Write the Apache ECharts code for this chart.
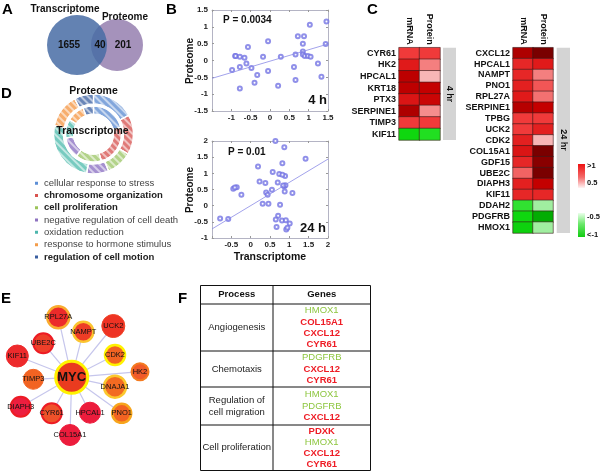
<!DOCTYPE html>
<html><head><meta charset="utf-8">
<script src="https://cdn.jsdelivr.net/npm/echarts/dist/echarts.min.js"></script>
<style>html,body{margin:0;padding:0;background:#fff}#c{width:600px;height:473px}</style>
</head><body><div id="c"></div>
<script>
const FONT = '"Liberation Sans", Arial, Helvetica, sans-serif';
// ---------- Panel A ----------
const vennLabels = ['Transcriptome', 'Proteome'];
const vennCounts = [1655, 40, 201];
// ---------- Panel B ----------
const scatter4h = [[1.46,1.16],[1.03,1.06],[-0.05,0.57],[0.72,0.72],[0.88,0.72],[-0.57,0.40],[0.85,0.50],[1.44,0.49],
[-0.90,0.13],[-0.89,0.13],[-0.78,0.11],[-0.66,0.08],[-0.18,0.11],[0.28,0.11],[0.66,0.18],[0.85,0.27],[0.85,0.18],
[0.90,0.13],[0.98,0.13],[1.05,0.11],[1.24,-0.09],[0.62,-0.19],[-0.98,-0.28],[-0.78,-0.19],[-0.61,-0.09],[-0.48,-0.22],
[-0.05,-0.31],[-0.33,-0.43],[-0.40,-0.66],[-0.78,-0.83],[0.21,-0.75],[0.66,-0.58],[1.33,-0.48]];
const fit4h = [[-1.5,-0.53],[1.5,0.49]];
const scatter24h = [[0.64,2.0],[0.87,1.81],[1.42,1.45],[0.19,1.21],[0.82,1.31],[0.57,1.04],[0.74,0.98],[0.89,0.92],[0.82,0.96],
[0.23,0.75],[0.38,0.70],[0.70,0.72],[0.87,0.60],[0.90,0.63],[0.84,0.62],[0.88,0.44],[-0.45,0.52],[-0.36,0.57],[-0.41,0.56],
[-0.24,0.34],[0.40,0.41],[0.55,0.49],[1.08,0.39],[0.44,0.34],[0.31,0.06],[0.46,0.06],[0.76,0.03],[0.71,-0.31],[0.65,-0.43],
[0.81,-0.46],[0.91,-0.45],[1.01,-0.55],[0.67,-0.66],[0.92,-0.74],[0.95,-0.68],[-0.79,-0.40],[-0.58,-0.41]];
const fit24h = [[-1,-0.72],[2,1.44]];
const pLabels = ['P = 0.0034', 'P = 0.01'];
const timeLabels = ['4 h', '24 h'];
const axisTitles = ['Proteome', 'Transcriptome'];
// ---------- Panel C ----------
const heatCols = ['mRNA', 'Protein'];
const genes4h = ['CYR61','HK2','HPCAL1','KRT18','PTX3','SERPINE1','TIMP3','KIF11'];
const mrna4h = [1.0, 1.5, 2.1, 2.1, 1.6, 2.3, 1.0, -1.05];
const prot4h = [1.0, 0.75, 0.55, 2.0, 1.9, 0.7, 1.0, -0.95];
const genes24h = ['CXCL12','HPCAL1','NAMPT','PNO1','RPL27A','SERPINE1','TPBG','UCK2','CDK2','COL15A1','GDF15','UBE2C','DIAPH3','KIF11','DDAH2','PDGFRB','HMOX1'];
const mrna24h = [2.3, 1.3, 1.3, 1.4, 1.5, 2.2, 1.0, 1.0, 1.4, 1.6, 1.3, 0.85, 1.4, 1.3, -0.9, -1.05, -1.1];
const prot24h = [3.0, 1.5, 0.75, 0.9, 0.8, 2.0, 1.0, 1.4, 0.55, 3.0, 2.8, 3.0, 2.0, 1.3, -0.55, -1.4, -0.55];
const timeBars = ['4 hr', '24 hr'];
const scaleLabels = ['>1', '0.5', '-0.5', '<-1'];
// ---------- Panel D ----------
const goTerms = ['cellular response to stress','chromosome organization','cell proliferation','negative regulation of cell death','oxidation reduction','response to hormone stimulus','regulation of cell motion'];
const goBold = ['chromosome organization','cell proliferation','regulation of cell motion'];
const outerRing = [62, 58, 38, 32, 92, 50, 28];
const innerRing = [77, 87, 54, 44, 39, 37, 22];
const ringLabels = ['Proteome', 'Transcriptome'];
// ---------- Panel E ----------
const netNames = ['MYC','RPL27A','NAMPT','UCK2','UBE2C','KIF11','CDK2','HK2','TIMP3','DNAJA1','DIAPH3','CYR61','HPCAL1','PNO1','COL15A1'];
const netX = [71.7, 58.3, 83.3, 113.3, 43.3, 17.3, 115, 140, 33.3, 115, 20.7, 51.7, 90, 121.7, 70];
const netY = [377.3, 317.3, 331.7, 326, 343.3, 356, 355, 371.7, 379.3, 386.7, 406.7, 413.3, 412.7, 413.3, 435];
// ---------- Panel F ----------
const tableHeader = ['Process', 'Genes'];
const processes = ['Angiogenesis', 'Chemotaxis', 'Regulation of\ncell migration', 'Cell proliferation'];
const processGenes = [['HMOX1','COL15A1','CXCL12','CYR61'],['PDGFRB','CXCL12','CYR61'],['HMOX1','PDGFRB','CXCL12'],['PDXK','HMOX1','CXCL12','CYR61']];
const downGenes = ['HMOX1','PDGFRB'];

// ================= styling / layout =================
const panelLetters = [['A',2,2],['B',166,2],['C',367,2],['D',1,86],['E',1,291],['F',178,291]];
const ringColors = ['#82a6dc','#e07a78','#b3d38a','#a590d0','#77cbc0','#f7ae6e','#6a86b8'];
const legendColors = ['#5d8fd6','#d9534f','#9cc45a','#8e73c0','#4db6ac','#f39c4a','#3a5fa0'];
const netFill = ['#ea3b1f','#ec2b2a','#ee3d26','#ee3324','#ee3f2a','#ed2a2c','#f26322','#f15a29','#f26322','#f26a22','#ec1e3f','#f0512a','#ec1c3c','#f26322','#ec1c3c'];
const netBorder = ['#fff200','#f9ac2f','#fbc530','#ef4426','#ed1c24','#ed2a2c','#fff200','#f47b20','#f26322','#fbc72d','#ed1c24','#ed1c24','#ec1c3c','#f7a51c','#ec1c3c'];
const netBorderW = [3,2.5,2.5,1,2,1,2.5,2,1,2.5,2,2,1,2.5,1];
const netSize = [32,22,20,23,20,22,20,17,20,22,20,20,21,19,21];

function T(text, x, y, o) {
  o = o || {};
  return { type:'text', x:x, y:y, rotation:o.rot||0, z:o.z||100, silent:true,
    style:{ text:text, x:0, y:0, fill:o.color||'#111',
      font:(o.bold?'bold ':'')+(o.size||10)+'px '+FONT,
      textAlign:o.align||'center', textVerticalAlign:o.valign||'middle',
      align:o.align||'center', verticalAlign:o.valign||'middle', lineHeight:o.lh } };
}
const G = [];
panelLetters.forEach(p => G.push(T(p[0], p[1], p[2], {bold:true, size:15, align:'left', valign:'top', color:'#000'})));
// Venn
G.push({type:'circle', shape:{cx:117, cy:45, r:26}, style:{fill:'#a592bb'}, z:10, silent:true});
G.push({type:'circle', shape:{cx:77, cy:45, r:30}, style:{fill:'rgba(72,108,165,0.85)'}, z:11, silent:true});
G.push(T(vennLabels[0], 65, 9, {bold:true, size:10}));
G.push(T(vennLabels[1], 125, 17, {bold:true, size:10}));
G.push(T(String(vennCounts[0]), 69, 45, {bold:true, size:10}));
G.push(T(String(vennCounts[1]), 100, 45, {bold:true, size:10}));
G.push(T(String(vennCounts[2]), 123, 45, {bold:true, size:10}));
// Scatter annotations
G.push(T(pLabels[0], 223, 20, {bold:true, size:10, align:'left'}));
G.push(T(timeLabels[0], 327, 100, {bold:true, size:13, align:'right'}));
G.push(T(pLabels[1], 228, 152, {bold:true, size:10, align:'left'}));
G.push(T(timeLabels[1], 326, 228, {bold:true, size:13, align:'right'}));
G.push(T(axisTitles[0], 190, 61, {bold:true, size:10, rot:Math.PI/2}));
G.push(T(axisTitles[0], 190, 190, {bold:true, size:10, rot:Math.PI/2}));
G.push(T(axisTitles[1], 270, 257, {bold:true, size:10.5}));
// Heatmap side bars + scale
G.push({type:'rect', shape:{x:443, y:47.7, width:13, height:92.3}, style:{fill:'#d4d4d4'}, z:5, silent:true});
G.push({type:'rect', shape:{x:556.7, y:47.7, width:13.3, height:185.3}, style:{fill:'#d4d4d4'}, z:5, silent:true});
G.push(T(timeBars[0], 449.5, 94, {bold:true, size:9, rot:-Math.PI/2}));
G.push(T(timeBars[1], 563.3, 140, {bold:true, size:9, rot:-Math.PI/2}));
G.push({type:'rect', shape:{x:578, y:164, width:7, height:24}, silent:true,
  style:{fill:new echarts.graphic.LinearGradient(0,0,0,1,[{offset:0,color:'#ee1111'},{offset:0.55,color:'#f46a6a'},{offset:1,color:'#fff4f4'}])}});
G.push({type:'rect', shape:{x:578, y:213, width:7, height:24}, silent:true,
  style:{fill:new echarts.graphic.LinearGradient(0,0,0,1,[{offset:0,color:'#eaffea'},{offset:0.45,color:'#6ce86c'},{offset:1,color:'#11cc11'}])}});
G.push(T(scaleLabels[0], 587, 166, {bold:true, size:7.5, align:'left'}));
G.push(T(scaleLabels[1], 587, 183, {bold:true, size:7.5, align:'left'}));
G.push(T(scaleLabels[2], 587, 217, {bold:true, size:7.5, align:'left'}));
G.push(T(scaleLabels[3], 587, 235, {bold:true, size:7.5, align:'left'}));
// Donut labels
G.push(T(ringLabels[0], 93.5, 91, {bold:true, size:10.5, z:200}));
G.push(T(ringLabels[1], 92.5, 131, {bold:true, size:10.5, z:200}));
// Table
const tx = [200.5, 273, 370.5];
const ty = [285.5, 304, 351, 387, 425, 470.5];
G.push({type:'rect', shape:{x:tx[0], y:ty[0], width:tx[2]-tx[0], height:ty[5]-ty[0]}, style:{fill:null, stroke:'#111', lineWidth:1}, silent:true});
G.push({type:'line', shape:{x1:tx[1], y1:ty[0], x2:tx[1], y2:ty[5]}, style:{stroke:'#111', lineWidth:1}, silent:true});
for (let i = 1; i < ty.length - 1; i++) G.push({type:'line', shape:{x1:tx[0], y1:ty[i], x2:tx[2], y2:ty[i]}, style:{stroke:'#111', lineWidth:1}, silent:true});
G.push(T(tableHeader[0], (tx[0]+tx[1])/2, (ty[0]+ty[1])/2, {bold:true, size:9.5}));
G.push(T(tableHeader[1], (tx[1]+tx[2])/2, (ty[0]+ty[1])/2, {bold:true, size:9.5}));
processes.forEach((p, i) => {
  const cy = (ty[i+1] + ty[i+2]) / 2;
  G.push(T(p, (tx[0]+tx[1])/2, cy, {size:9.5, color:'#222', lh:12}));
  const gl = processGenes[i];
  gl.forEach((g, j) => {
    const down = downGenes.indexOf(g) >= 0;
    G.push(T(g, (tx[1]+tx[2])/2, cy + (j - (gl.length-1)/2) * 11.2, {size:9.5, bold:!down, color: down ? '#8dc63f' : '#ee1c25'}));
  });
});

// ============ series ============
const boxLine = {show:true, onZero:false, lineStyle:{color:'#b4b4c4', width:1}};
const tickIn = {show:true, inside:true, length:2, lineStyle:{color:'#999'}};
const lbl = {fontSize:8, fontWeight:'bold', color:'#222', fontFamily:FONT};
function valAx(grid, pos, min, max, hideV, showLabel) {
  return {type:'value', gridIndex:grid, position:pos, min:min, max:max, interval:0.5, splitLine:{show:false},
    axisLine:boxLine, axisTick:tickIn,
    axisLabel: showLabel ? Object.assign({margin:pos==='left'?4:3, formatter: v => (hideV!==null && Math.abs(v-hideV)<1e-9) ? '' : String(v)}, lbl) : {show:false}};
}
const catLbl = {fontSize:9, fontWeight:'bold', color:'#111', fontFamily:FONT, interval:0};
function heatData(m, p) { const d = []; m.forEach((v,i)=>{ d.push([0,i,v]); d.push([1,i,p[i]]); }); return d; }

const decal = {symbol:'rect', symbolSize:1, dashArrayX:[1,0], dashArrayY:[1.4,2.2], rotation:Math.PI/4, color:'rgba(255,255,255,0.55)'};
function ringData(vals) { return vals.map((v,i)=>({name:goTerms[i], value:v, itemStyle:{color:ringColors[i], decal:decal}})); }

const nodeData = netNames.map((n,i)=>({name:n, x:netX[i], y:netY[i], symbolSize:netSize[i],
  itemStyle:{color:netFill[i], borderColor:netBorder[i], borderWidth:netBorderW[i]},
  label: i===0 ? {fontSize:13, fontWeight:'bold', color:'#111'} : {fontSize:7.5, color:'#111'}}));
const links = netNames.slice(1).map(n=>({source:'MYC', target:n}));
const nxMin = Math.min(...netX), nxMax = Math.max(...netX), nyMin = Math.min(...netY), nyMax = Math.max(...netY);

const option = {
  animation:false,
  textStyle:{fontFamily:FONT},
  grid:[
    {left:212, top:10, width:116, height:101},
    {left:212, top:141, width:116, height:97},
    {left:399, top:47.7, width:41, height:92.3},
    {left:513, top:47.7, width:40, height:185.3}
  ],
  xAxis:[
    valAx(0,'bottom',-1.5,1.5,-1.5,true),
    valAx(0,'top',-1.5,1.5,null,false),
    valAx(1,'bottom',-1,2,-1,true),
    valAx(1,'top',-1,2,null,false),
    {type:'category', gridIndex:2, position:'top', data:heatCols, axisLine:{show:false}, axisTick:{show:false}, axisLabel:Object.assign({rotate:90, margin:3}, catLbl)},
    {type:'category', gridIndex:3, position:'top', data:heatCols, axisLine:{show:false}, axisTick:{show:false}, axisLabel:Object.assign({rotate:90, margin:3}, catLbl)}
  ],
  yAxis:[
    valAx(0,'left',-1.5,1.5,null,true),
    valAx(0,'right',-1.5,1.5,null,false),
    valAx(1,'left',-1,2,null,true),
    valAx(1,'right',-1,2,null,false),
    {type:'category', gridIndex:2, data:genes4h, inverse:true, axisLine:{show:false}, axisTick:{show:false}, axisLabel:Object.assign({margin:3}, catLbl)},
    {type:'category', gridIndex:3, data:genes24h, inverse:true, axisLine:{show:false}, axisTick:{show:false}, axisLabel:Object.assign({margin:3}, catLbl)}
  ],
  visualMap:{type:'continuous', show:false, min:-1.5, max:3, seriesIndex:[4,5],
    inRange:{color:['#00a000','#11dd11','#b0f0b0','#ffffff','#f8c4c4','#f03a3a','#e01a1a','#c40000','#a00000','#7a0000']}},
  legend:{data:goTerms.map((n,i)=>({name:n, itemStyle:{color:legendColors[i], decal:'none'}})),
    orient:'vertical', left:33, top:178, padding:0, itemWidth:5, itemHeight:5, itemGap:2, icon:'rect', selectedMode:false,
    formatter: n => goBold.indexOf(n)>=0 ? '{b|'+n+'}' : n,
    textStyle:{fontSize:9.5, color:'#444', fontFamily:FONT, lineHeight:10.3, padding:0,
      rich:{b:{fontSize:9.5, fontWeight:'bold', color:'#222', fontFamily:FONT, lineHeight:10.3}}}},
  series:[
    {type:'scatter', xAxisIndex:0, yAxisIndex:0, data:scatter4h, symbol:'emptyCircle', symbolSize:4, itemStyle:{color:'#7474e4', borderWidth:0.7}, silent:true},
    {type:'line', xAxisIndex:0, yAxisIndex:0, data:fit4h, showSymbol:false, lineStyle:{color:'#8a8ae6', width:0.8}, silent:true},
    {type:'scatter', xAxisIndex:2, yAxisIndex:2, data:scatter24h, symbol:'emptyCircle', symbolSize:4, itemStyle:{color:'#7474e4', borderWidth:0.7}, silent:true},
    {type:'line', xAxisIndex:2, yAxisIndex:2, data:fit24h, showSymbol:false, lineStyle:{color:'#8a8ae6', width:0.8}, silent:true},
    {type:'heatmap', xAxisIndex:4, yAxisIndex:4, data:heatData(mrna4h, prot4h), itemStyle:{borderColor:'#3a1a1a', borderWidth:0.6}, silent:true},
    {type:'heatmap', xAxisIndex:5, yAxisIndex:5, data:heatData(mrna24h, prot24h), itemStyle:{borderColor:'#3a1a1a', borderWidth:0.6}, silent:true},
    {type:'pie', center:[93.5,134], radius:[30,40], startAngle:90, clockwise:true, label:{show:false}, labelLine:{show:false},
      itemStyle:{borderColor:'#fff', borderWidth:1.2}, data:ringData(outerRing), silent:true},
    {type:'pie', center:[93.5,134], radius:[20,28], startAngle:90, clockwise:true, label:{show:false}, labelLine:{show:false},
      itemStyle:{borderColor:'#fff', borderWidth:1.2}, data:ringData(innerRing), silent:true},
    {type:'graph', layout:'none', left:nxMin, top:nyMin, width:nxMax-nxMin, height:nyMax-nyMin, roam:false,
      data:nodeData, links:links, label:{show:true, position:'inside', fontFamily:FONT},
      lineStyle:{color:'#c6c6ec', width:1.2, opacity:1}, emphasis:{disabled:true}, silent:true}
  ],
  graphic:G
};
const chart = echarts.init(document.getElementById('c'));
chart.setOption(option);
</script>
</body></html>
